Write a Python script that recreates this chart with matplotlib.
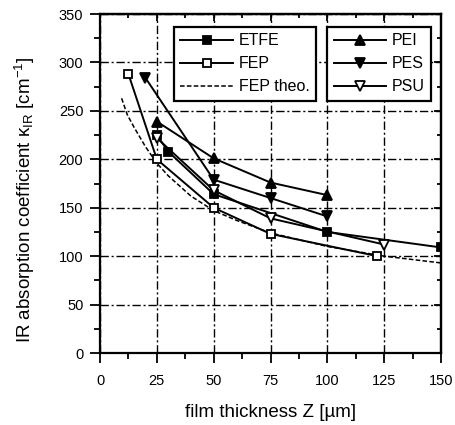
import matplotlib
matplotlib.use("Agg")
import matplotlib.pyplot as plt
from matplotlib.ticker import MultipleLocator

plt.rcParams['font.family'] = ['Liberation Sans', 'DejaVu Sans']
plt.rcParams['mathtext.fontset'] = 'custom'
plt.rcParams['mathtext.rm'] = 'Liberation Sans'
plt.rcParams['mathtext.it'] = 'Liberation Sans:italic'

# Measured absorption coefficients (cm^-1) vs film thickness (µm)
etfe_z = [25, 30, 50, 100, 150]
etfe_k = [225, 208, 164, 125, 109]

fep_z = [12.5, 25, 50, 75, 122]
fep_k = [288, 200, 150, 123, 100]

fep_theo_z = [9.5, 12, 15, 20, 25, 30, 40, 50, 60, 75, 100, 125, 150]
fep_theo_k = [263, 246, 233, 213, 196, 183, 162, 147, 137, 124, 110, 100, 93]

pei_z = [25, 50, 75, 100]
pei_k = [239, 201, 176, 163]

pes_z = [20, 50, 75, 100]
pes_k = [284, 179, 160, 141]

psu_z = [25, 50, 75, 125]
psu_k = [222, 168, 139, 112]

xticks = [0, 25, 50, 75, 100, 125, 150]
yticks = [0, 50, 100, 150, 200, 250, 300, 350]

fig = plt.figure(figsize=(4.55, 4.25), dpi=100)
ax = fig.add_axes([0.2198, 0.1694, 0.7495, 0.7976])

lw = 1.4
ms = 6
mew = 1.3
h_etfe, = ax.plot(etfe_z, etfe_k, '-', color='black', lw=lw, marker='s', ms=ms,
                  mfc='black', mec='black', mew=mew, label='ETFE', zorder=4)
h_fep, = ax.plot(fep_z, fep_k, '-', color='black', lw=lw, marker='s', ms=ms,
                 mfc='white', mec='black', mew=mew, label='FEP', zorder=4)
h_theo, = ax.plot(fep_theo_z, fep_theo_k, color='black', lw=1.1,
                  ls=(0, (3, 1.5)), label='FEP theo.', zorder=3)
h_pei, = ax.plot(pei_z, pei_k, '-', color='black', lw=lw, marker='^', ms=ms + 1,
                 mfc='black', mec='black', mew=mew, label='PEI', zorder=4)
h_pes, = ax.plot(pes_z, pes_k, '-', color='black', lw=lw, marker='v', ms=ms + 1,
                 mfc='black', mec='black', mew=mew, label='PES', zorder=4)
h_psu, = ax.plot(psu_z, psu_k, '-', color='black', lw=lw, marker='v', ms=ms + 1,
                 mfc='white', mec='black', mew=mew, label='PSU', zorder=4)

ax.set_xlim(0, 150)
ax.set_ylim(0, 350)
ax.set_xticks(xticks)
ax.set_yticks(yticks)
ax.xaxis.set_minor_locator(MultipleLocator(12.5))
ax.yaxis.set_minor_locator(MultipleLocator(25))

grid_ls = (0, (6, 2, 1.5, 2))
ax.grid(True, which='major', color='black', lw=1.0, ls=grid_ls, zorder=1)
ax.set_axisbelow(True)

for s in ax.spines.values():
    s.set_linewidth(1.6)

ax.tick_params(axis='both', which='major', direction='out', length=7, width=1.3,
               labelsize=10.5, top=False, right=False)
ax.tick_params(axis='x', which='major', pad=8)
ax.tick_params(axis='y', which='major', pad=5)
ax.tick_params(axis='both', which='minor', direction='out', length=4, width=1.3,
               top=False, right=False)

# inward ticks on the top and right edges
top = ax.secondary_xaxis('top')
top.set_xticks(xticks)
top.xaxis.set_minor_locator(MultipleLocator(12.5))
top.tick_params(which='major', direction='in', length=5, width=1.3, labeltop=False)
top.tick_params(which='minor', direction='in', length=3, width=1.3)
top.spines['top'].set_linewidth(1.6)

right = ax.secondary_yaxis('right')
right.set_yticks(yticks)
right.yaxis.set_minor_locator(MultipleLocator(25))
right.tick_params(which='major', direction='in', length=5, width=1.3, labelright=False)
right.tick_params(which='minor', direction='in', length=3, width=1.3)
right.spines['right'].set_linewidth(1.6)

ax.set_xlabel('film thickness Z [µm]', fontsize=13.5)
ax.xaxis.set_label_coords(0.5, -0.150)
ax.set_ylabel('IR absorption coefficient κ$_{\\rm IR}$ [cm$^{-1}$]',
              fontsize=13.5)
ax.yaxis.set_label_coords(-0.184, 0.452)

leg_kw = dict(frameon=True, fancybox=False, framealpha=1, edgecolor='black',
              fontsize=11.5, handlelength=3.3, handletextpad=0.35,
              labelspacing=0.5, borderpad=0.4, borderaxespad=0)
leg1 = ax.legend(handles=[h_etfe, h_fep, h_theo], loc='upper left',
                 bbox_to_anchor=(0.217, 0.962), **leg_kw)
leg1.get_frame().set_linewidth(1.6)
ax.add_artist(leg1)
leg2 = ax.legend(handles=[h_pei, h_pes, h_psu], loc='upper left',
                 bbox_to_anchor=(0.666, 0.962), **leg_kw)
leg2.get_frame().set_linewidth(1.6)

fig.savefig('out.png', dpi=100)
